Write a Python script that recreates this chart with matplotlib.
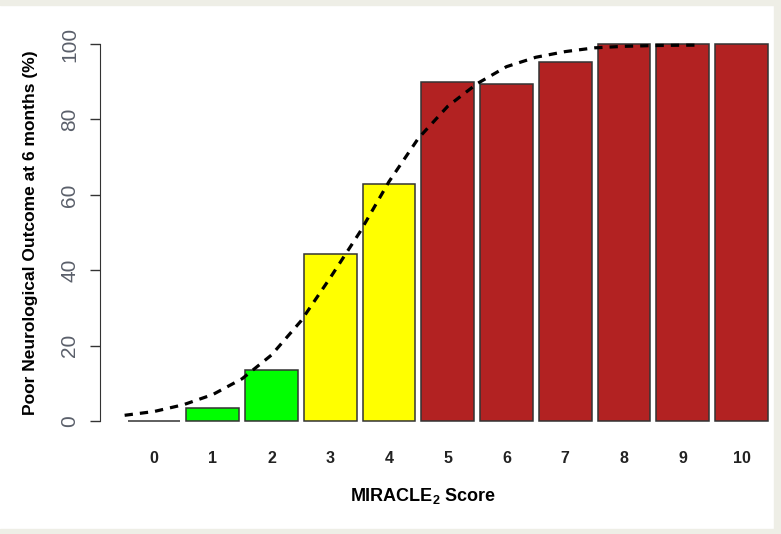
import matplotlib.pyplot as plt
from matplotlib.patches import Rectangle

plt.rcParams['font.family'] = ['Liberation Sans', 'DejaVu Sans']
plt.rcParams['mathtext.fontset'] = 'custom'
plt.rcParams['mathtext.rm'] = 'Liberation Sans'
plt.rcParams['mathtext.bf'] = 'Liberation Sans:bold'

# MIRACLE2 score vs observed poor outcome (%)
scores = [0, 1, 2, 3, 4, 5, 6, 7, 8, 9, 10]
outcome = [0, 3.5, 13.5, 44.3, 62.9, 90, 89.4, 95.2, 100, 100, 100]
bar_colors = ['#00ff00', '#00ff00', '#00ff00', '#ffff00', '#ffff00',
              '#b22222', '#b22222', '#b22222', '#b22222', '#b22222', '#b22222']

# fitted curve
curve_x = [-0.5, 0, 0.5, 1, 1.5, 2, 2.5, 3, 3.5, 4, 4.5, 5, 5.5, 6, 6.5, 7, 7.5, 8, 8.5, 9, 9.3]
curve_y = [1.5, 2.5, 4.3, 7.0, 11.2, 17.5, 26.5, 38, 50, 63.5, 75, 83.5, 89.5, 94, 96.5, 98, 99, 99.4, 99.6, 99.7, 99.7]

yticks = [0, 20, 40, 60, 80, 100]

fig = plt.figure(figsize=(7.81, 5.34), dpi=100)
ax = fig.add_axes([0.128, 0.1976, 0.859, 0.734])

ax.bar(scores, outcome, width=0.9, color=bar_colors, edgecolor='#333333', linewidth=1.1)
ax.plot(curve_x, curve_y, color='black', linewidth=2.3, linestyle=(0, (2.6, 2.2)))

ax.set_xlim(-0.92, 10.5)
ax.set_ylim(-2, 102)

for s in ['top', 'right', 'bottom']:
    ax.spines[s].set_visible(False)
ax.spines['left'].set_bounds(0, 100)
ax.spines['left'].set_color('#333333')

ax.set_xticks(scores)
ax.set_xticklabels([str(s) for s in scores], fontsize=11.5, fontweight='bold', color='#222222')
ax.tick_params(axis='x', length=0, pad=16)

ax.set_yticks(yticks)
ax.set_yticklabels([str(t) for t in yticks], rotation=90, va='center', fontsize=15, color='#5a5f6a')
ax.tick_params(axis='y', length=7, width=1, color='#333333', pad=8)

ax.set_ylabel('Poor Neurological Outcome at 6 months (%)', fontsize=12.5, fontweight='bold', labelpad=16)
ax.set_xlabel(r'MIRACLE$_\mathbf{2}$ Score', fontsize=13, fontweight='bold')
ax.xaxis.set_label_coords(0.482, -0.147)

# light frame around the picture
frame = '#eeeee6'
fig.patches.append(Rectangle((0, 0.99), 1, 0.01, transform=fig.transFigure, color=frame, zorder=-1))
fig.patches.append(Rectangle((0.991, 0), 0.009, 1, transform=fig.transFigure, color=frame, zorder=-1))
fig.patches.append(Rectangle((0, 0), 1, 0.01, transform=fig.transFigure, color=frame, zorder=-1))

plt.savefig('out.png', dpi=100)
